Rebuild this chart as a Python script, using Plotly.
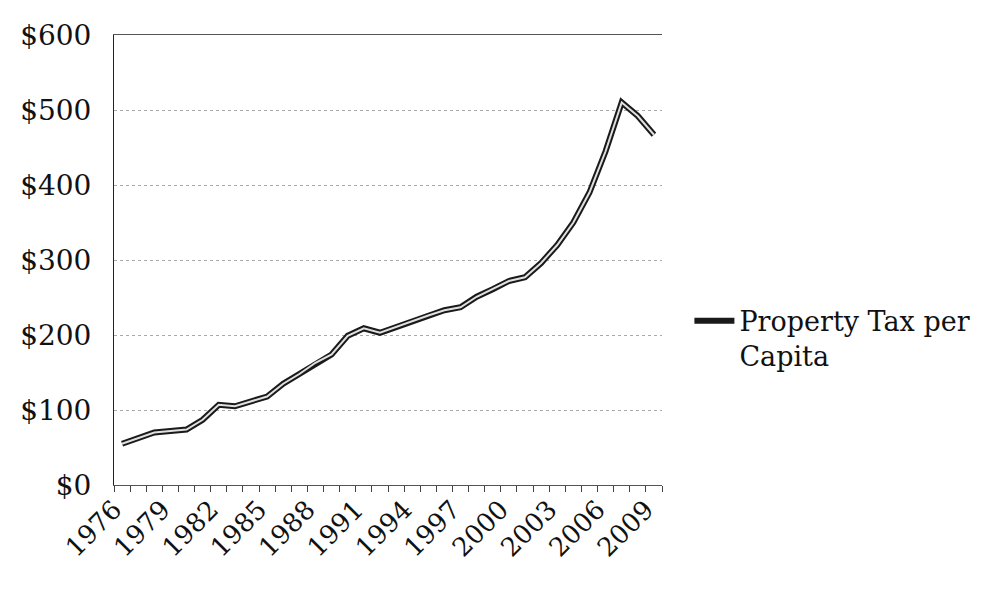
import plotly.graph_objects as go

years = [str(y) for y in range(1976, 2010)]
tax_per_capita = [55, 62, 70, 72, 74, 87, 107, 105, 111, 118,
                  135, 148, 163, 174, 199, 209, 203, 211, 218, 226,
                  233, 237, 251, 261, 272, 277, 296, 320, 350, 390,
                  445, 510, 492, 467]
y_ticks = [0, 100, 200, 300, 400, 500, 600]
y_labels = ["$0", "$100", "$200", "$300", "$400", "$500", "$600"]
x_label_years = years[::3]

idx = list(range(len(years)))
font_family = "DejaVu Serif"

fig = go.Figure()
fig.add_trace(go.Scatter(x=idx, y=tax_per_capita, mode="lines",
                         name="Property Tax per<br>Capita",
                         line=dict(color="#1a1a1a", width=6)))
fig.add_trace(go.Scatter(x=idx, y=tax_per_capita, mode="lines",
                         showlegend=False, hoverinfo="skip",
                         line=dict(color="#e0e0e0", width=2)))

fig.update_layout(
    width=985, height=605,
    margin=dict(l=106, r=331, t=27, b=128),
    paper_bgcolor="white", plot_bgcolor="white",
    font=dict(family=font_family, color="#111", size=26),
    legend=dict(x=1.05, y=0.325, xanchor="left", yanchor="middle",
                valign="top",
                font=dict(size=27, family=font_family), bgcolor="rgba(0,0,0,0)",
                itemwidth=40, tracegroupgap=0),
)
fig.update_xaxes(
    range=[-0.5, len(years) - 0.5],
    tickmode="array",
    tickvals=[years.index(y) for y in x_label_years],
    ticktext=x_label_years,
    tickangle=-45,
    ticks="",
    ticklabelstandoff=-2,
    ticklabelshift=-8,
    showgrid=False,
    showline=True, linecolor="#555", linewidth=1, mirror=True,
    minor=dict(ticks="outside", tickmode="linear", tick0=-0.5, dtick=1,
               ticklen=6, tickcolor="#444", showgrid=False),
    tickfont=dict(size=26, family=font_family),
    zeroline=False,
    automargin=False,
)
fig.update_yaxes(
    range=[0, 600],
    tickmode="array", tickvals=y_ticks, ticktext=y_labels,
    showgrid=True, gridcolor="#aaa", griddash="dot", gridwidth=1,
    showline=True, linecolor="#222", linewidth=1,
    ticks="", ticklen=0,
    ticklabelstandoff=16,
    tickfont=dict(size=28),
    zeroline=False,
    automargin=False,
)
fig.write_html("out.html")
